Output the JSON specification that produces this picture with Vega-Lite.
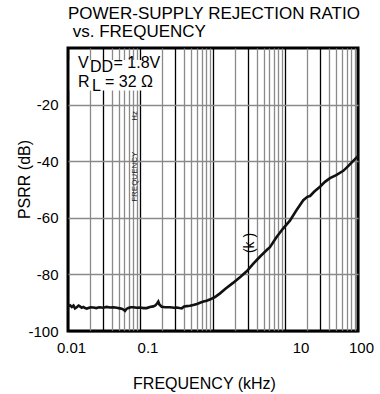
{
  "$schema": "https://vega.github.io/schema/vega-lite/v6.json",
  "width": 290,
  "height": 283,
  "autosize": "none",
  "padding": {"left": 68, "top": 48, "right": 22, "bottom": 63},
  "background": "white",
  "config": {
    "font": "Liberation Sans",
    "view": {"stroke": "#000", "strokeWidth": 3}
  },
  "title": {
    "text": ["POWER-SUPPLY REJECTION RATIO", "\u200b vs. FREQUENCY"],
    "anchor": "start",
    "frame": "group",
    "font": "Liberation Sans",
    "fontSize": 17,
    "fontWeight": "normal",
    "color": "#000",
    "lineHeight": 18,
    "offset": 7
  },
  "layer": [
    {
      "data": {"values": [
        {"f": 0.0100, "psrr": -91.3}, {"f": 0.0107, "psrr": -90.9}, {"f": 0.0113, "psrr": -91.5},
        {"f": 0.0119, "psrr": -91.0}, {"f": 0.0125, "psrr": -92.0}, {"f": 0.0132, "psrr": -91.6},
        {"f": 0.0140, "psrr": -91.0}, {"f": 0.0146, "psrr": -91.3}, {"f": 0.0155, "psrr": -91.8},
        {"f": 0.0163, "psrr": -91.5}, {"f": 0.0172, "psrr": -91.9}, {"f": 0.0182, "psrr": -92.1},
        {"f": 0.0191, "psrr": -91.9}, {"f": 0.0205, "psrr": -91.6}, {"f": 0.0224, "psrr": -91.7},
        {"f": 0.0245, "psrr": -91.9}, {"f": 0.0270, "psrr": -91.6}, {"f": 0.0307, "psrr": -91.8},
        {"f": 0.0340, "psrr": -91.5}, {"f": 0.0380, "psrr": -91.7}, {"f": 0.0422, "psrr": -91.6},
        {"f": 0.0470, "psrr": -91.8}, {"f": 0.0520, "psrr": -92.0}, {"f": 0.0550, "psrr": -92.1},
        {"f": 0.0580, "psrr": -92.4}, {"f": 0.0611, "psrr": -92.9}, {"f": 0.0640, "psrr": -92.2},
        {"f": 0.0680, "psrr": -91.9}, {"f": 0.0730, "psrr": -91.6}, {"f": 0.0796, "psrr": -91.6},
        {"f": 0.0880, "psrr": -91.8}, {"f": 0.0984, "psrr": -91.7}, {"f": 0.110, "psrr": -91.9},
        {"f": 0.1217, "psrr": -91.9}, {"f": 0.135, "psrr": -91.5}, {"f": 0.150, "psrr": -91.3},
        {"f": 0.160, "psrr": -91.0}, {"f": 0.170, "psrr": -90.2}, {"f": 0.176, "psrr": -89.6},
        {"f": 0.182, "psrr": -90.6}, {"f": 0.196, "psrr": -91.4}, {"f": 0.220, "psrr": -91.6},
        {"f": 0.255, "psrr": -91.6}, {"f": 0.290, "psrr": -91.8}, {"f": 0.316, "psrr": -91.7},
        {"f": 0.345, "psrr": -91.9}, {"f": 0.370, "psrr": -92.0}, {"f": 0.400, "psrr": -91.3},
        {"f": 0.434, "psrr": -91.2}, {"f": 0.480, "psrr": -91.1}, {"f": 0.536, "psrr": -90.8},
        {"f": 0.600, "psrr": -90.5}, {"f": 0.662, "psrr": -90.0}, {"f": 0.740, "psrr": -89.6},
        {"f": 0.819, "psrr": -89.3}, {"f": 0.92, "psrr": -88.8}, {"f": 1.066, "psrr": -88.0},
        {"f": 1.25, "psrr": -86.7}, {"f": 1.5, "psrr": -85.0}, {"f": 1.89, "psrr": -83.0},
        {"f": 2.4, "psrr": -80.8}, {"f": 2.94, "psrr": -78.8}, {"f": 3.6, "psrr": -76.2},
        {"f": 4.5, "psrr": -73.6}, {"f": 5.56, "psrr": -71.3}, {"f": 6.1, "psrr": -70.4},
        {"f": 7.5, "psrr": -66.9}, {"f": 9.25, "psrr": -63.8}, {"f": 11.5, "psrr": -61.0},
        {"f": 14.0, "psrr": -57.5}, {"f": 17.6, "psrr": -53.8}, {"f": 20.0, "psrr": -52.6},
        {"f": 21.8, "psrr": -52.3}, {"f": 25.0, "psrr": -50.7}, {"f": 29.9, "psrr": -49.0},
        {"f": 35.0, "psrr": -47.3}, {"f": 41.1, "psrr": -46.0}, {"f": 50.0, "psrr": -44.9},
        {"f": 62.7, "psrr": -43.4}, {"f": 75.0, "psrr": -41.5}, {"f": 88.0, "psrr": -39.6},
        {"f": 100, "psrr": -38.2}
      ]},
      "mark": {"type": "line", "color": "#111", "strokeWidth": 2.6, "interpolate": "linear"},
      "encoding": {
        "x": {
          "field": "f", "type": "quantitative",
          "scale": {"type": "log", "domain": [0.01, 100], "nice": false},
          "axis": {
            "values": [0.01, 0.02, 0.03, 0.04, 0.05, 0.06, 0.07, 0.08, 0.09,
                       0.1, 0.2, 0.3, 0.4, 0.5, 0.6, 0.7, 0.8, 0.9,
                       1, 2, 3, 4, 5, 6, 7, 8, 9,
                       10, 20, 30, 40, 50, 60, 70, 80, 90, 100],
            "grid": true,
            "ticks": false,
            "domain": false,
            "gridColor": {"condition": {"test": "indexof([0.01,0.03,0.1,0.3,1,3,10,30,100], datum.value) >= 0", "value": "#000"}, "value": "#8a8a8a"},
            "gridWidth": 1.3,
            "labelExpr": "indexof([0.01,0.1,10,100], datum.value) >= 0 ? toString(datum.value) : ''",
            "labelFlush": false,
            "labelOverlap": false,
            "labelFontSize": 15,
            "labelColor": "#000",
            "labelPadding": 9,
            "labelOffset": {"condition": [{"test": "datum.value == 10", "value": 15}, {"test": "datum.value == 0.1", "value": 7}], "value": 3},
            "title": "FREQUENCY (kHz)",
            "titleFontSize": 16,
            "titleFontWeight": "normal",
            "titleColor": "#000",
            "titlePadding": 20,
            "titleX": 136
          }
        },
        "y": {
          "field": "psrr", "type": "quantitative",
          "scale": {"domain": [-100, 0], "nice": false},
          "axis": {
            "values": [-100, -80, -60, -40, -20],
            "grid": true,
            "gridColor": {"condition": {"test": "datum.value == -100", "value": "#000"}, "value": "#8a8a8a"},
            "gridWidth": 1.3,
            "ticks": false,
            "domain": false,
            "labelExpr": "toString(datum.value)",
            "labelFontSize": 15,
            "labelColor": "#000",
            "labelPadding": 10,
            "title": "PSRR (dB)",
            "titleFontSize": 16,
            "titleFontWeight": "normal",
            "titleColor": "#000",
            "titlePadding": -5,
            "titleY": 131
          }
        }
      }
    },
    {
      "data": {"values": [{"box": "legend"}]},
      "mark": {"type": "rect", "color": "white"},
      "encoding": {
        "x": {"datum": 0.0106, "type": "quantitative"},
        "x2": {"datum": 0.185},
        "y": {"datum": -4.2, "type": "quantitative"},
        "y2": {"datum": -15.0}
      }
    },
    {
      "data": {"values": [{"label": "V"}]},
      "mark": {"type": "text", "align": "left", "baseline": "alphabetic", "fontSize": 16, "color": "#000"},
      "encoding": {
        "x": {"datum": 0.01374, "type": "quantitative"},
        "y": {"datum": -7.07, "type": "quantitative"},
        "text": {"field": "label"}
      }
    },
    {
      "data": {"values": [{"label": "DD"}]},
      "mark": {"type": "text", "align": "left", "baseline": "alphabetic", "fontSize": 16, "color": "#000"},
      "encoding": {
        "x": {"datum": 0.0201, "type": "quantitative"},
        "y": {"datum": -8.5, "type": "quantitative"},
        "text": {"field": "label"}
      }
    },
    {
      "data": {"values": [{"label": "= 1.8V"}]},
      "mark": {"type": "text", "align": "left", "baseline": "alphabetic", "fontSize": 16, "color": "#000"},
      "encoding": {
        "x": {"datum": 0.0425, "type": "quantitative"},
        "y": {"datum": -7.07, "type": "quantitative"},
        "text": {"field": "label"}
      }
    },
    {
      "data": {"values": [{"label": "R"}]},
      "mark": {"type": "text", "align": "left", "baseline": "alphabetic", "fontSize": 16, "color": "#000"},
      "encoding": {
        "x": {"datum": 0.01374, "type": "quantitative"},
        "y": {"datum": -13.9, "type": "quantitative"},
        "text": {"field": "label"}
      }
    },
    {
      "data": {"values": [{"label": "L"}]},
      "mark": {"type": "text", "align": "left", "baseline": "alphabetic", "fontSize": 16, "color": "#000"},
      "encoding": {
        "x": {"datum": 0.0214, "type": "quantitative"},
        "y": {"datum": -15.3, "type": "quantitative"},
        "text": {"field": "label"}
      }
    },
    {
      "data": {"values": [{"label": "= 32 Ω"}]},
      "mark": {"type": "text", "align": "left", "baseline": "alphabetic", "fontSize": 16, "color": "#000"},
      "encoding": {
        "x": {"datum": 0.0324, "type": "quantitative"},
        "y": {"datum": -13.9, "type": "quantitative"},
        "text": {"field": "label"}
      }
    },
    {
      "data": {"values": [{"label": "FREQUENCY"}]},
      "mark": {"type": "text", "align": "center", "baseline": "middle", "angle": 270, "fontSize": 8, "color": "#222"},
      "encoding": {
        "x": {"datum": 0.084, "type": "quantitative"},
        "y": {"datum": -45.5, "type": "quantitative"},
        "text": {"field": "label"}
      }
    },
    {
      "data": {"values": [{"label": "Hz"}]},
      "mark": {"type": "text", "align": "center", "baseline": "middle", "angle": 270, "fontSize": 8, "color": "#222"},
      "encoding": {
        "x": {"datum": 0.084, "type": "quantitative"},
        "y": {"datum": -24.0, "type": "quantitative"},
        "text": {"field": "label"}
      }
    },
    {
      "data": {"values": [{"label": "(k )"}]},
      "mark": {"type": "text", "align": "center", "baseline": "middle", "angle": 270, "fontSize": 14, "color": "#000"},
      "encoding": {
        "x": {"datum": 3.24, "type": "quantitative"},
        "y": {"datum": -68.9, "type": "quantitative"},
        "text": {"field": "label"}
      }
    }
  ]
}
